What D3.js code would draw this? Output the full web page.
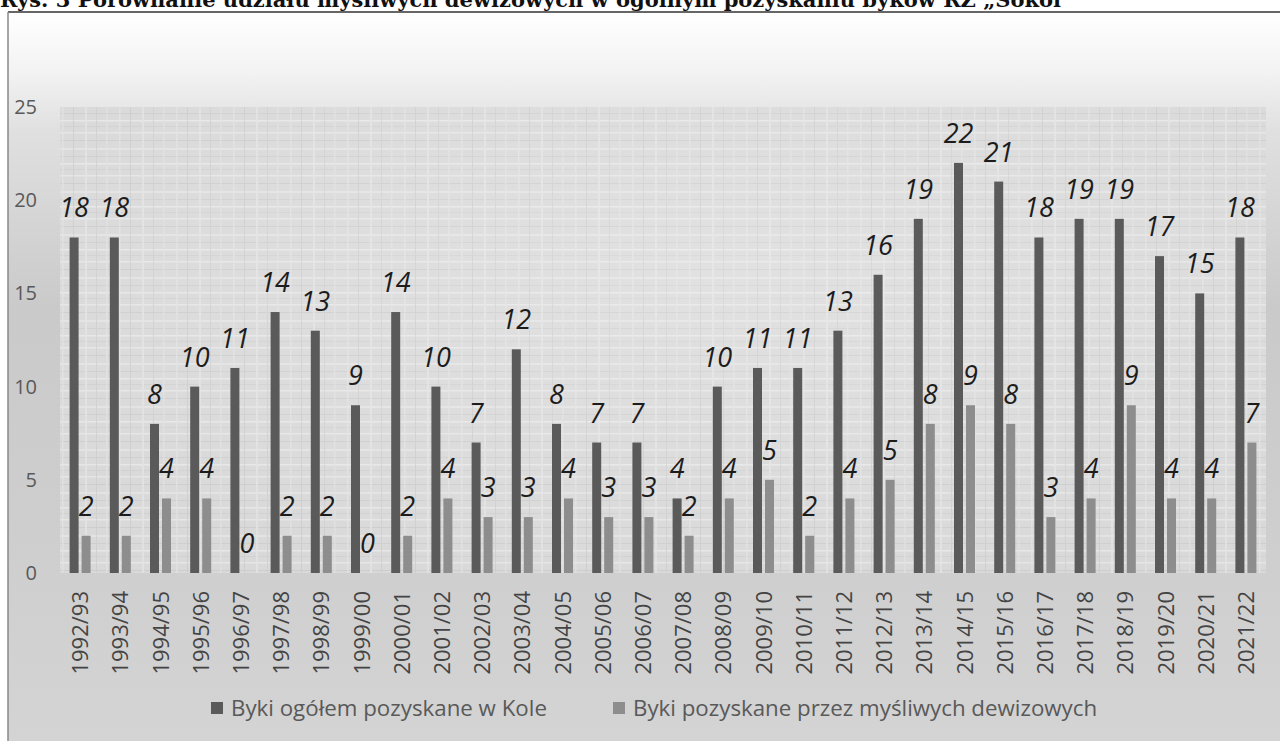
<!DOCTYPE html>
<html><head><meta charset="utf-8">
<script src="https://cdn.jsdelivr.net/npm/d3@7"></script>
<style>html,body{margin:0;padding:0;background:#fff;overflow:hidden}</style>
</head><body>
<svg id="c" width="1280" height="741"></svg>
<script>
const categories = ["1992/93","1993/94","1994/95","1995/96","1996/97","1997/98","1998/99","1999/00","2000/01","2001/02","2002/03","2003/04","2004/05","2005/06","2006/07","2007/08","2008/09","2009/10","2010/11","2011/12","2012/13","2013/14","2014/15","2015/16","2016/17","2017/18","2018/19","2019/20","2020/21","2021/22"];
const totalBulls = [18,18,8,10,11,14,13,9,14,10,7,12,8,7,7,4,10,11,11,13,16,19,22,21,18,19,19,17,15,18];
const foreignBulls = [2,2,4,4,0,2,2,0,2,4,3,3,4,3,3,2,4,5,2,4,5,8,9,8,3,4,9,4,4,7];
const yTicks = [0,5,10,15,20,25];
const seriesNames = ["Byki ogółem pozyskane w Kole","Byki pozyskane przez myśliwych dewizowych"];
const titleText = "Rys. 3 Porównanie udziału myśliwych dewizowych w ogólnym pozyskaniu byków RZ „Sokol\"";

const svg = d3.select("#c");
const defs = svg.append("defs");

// outer gradient
const g1 = defs.append("linearGradient").attr("id","bg").attr("x1",0).attr("y1",0).attr("x2",0).attr("y2",1);
[[0,"#ffffff"],[0.08,"#f3f3f3"],[0.16,"#e0e0e0"],[0.4,"#cacaca"],[0.7,"#cecece"],[1,"#d4d4d4"]]
  .forEach(([o,c])=>g1.append("stop").attr("offset",o).attr("stop-color",c));

// plot texture
const pat = defs.append("pattern").attr("id","tex").attr("patternUnits","userSpaceOnUse").attr("width",57).attr("height",43);
pat.append("rect").attr("width",57).attr("height",43).attr("fill","#d9d9d9");
[[3,"#e6e6e6",1.5],[11,"#cdcdcd",1],[19,"#e3e3e3",2],[27,"#cfcfcf",1],[34,"#e7e7e7",1.5],[40,"#d1d1d1",1]]
  .forEach(([y,c,w])=>pat.append("rect").attr("x",0).attr("y",y).attr("width",57).attr("height",w).attr("fill",c));
[[5,"#e2e2e2",1.5],[16,"#cccccc",1],[28,"#e4e4e4",2],[39,"#cecece",1],[49,"#e1e1e1",1.5]]
  .forEach(([x,c,w])=>pat.append("rect").attr("x",x).attr("y",0).attr("width",w).attr("height",43).attr("fill",c).attr("opacity",0.8));
const rg = defs.append("radialGradient").attr("id","glow").attr("cx",0.55).attr("cy",0.35).attr("r",0.7);
rg.append("stop").attr("offset",0).attr("stop-color","#ffffff").attr("stop-opacity",0.22);
rg.append("stop").attr("offset",1).attr("stop-color","#ffffff").attr("stop-opacity",0);

// title (cropped at top, as in the reference)
svg.append("text").attr("x",0).attr("y",7)
  .attr("font-family","DejaVu Serif").attr("font-weight","bold").attr("font-size",21)
  .attr("fill","#111").attr("textLength",1072).attr("lengthAdjust","spacingAndGlyphs")
  .text(titleText);

// chart area
svg.append("rect").attr("x",8).attr("y",12).attr("width",1280).attr("height",740).attr("fill","url(#bg)");
svg.append("line").attr("x1",8).attr("x2",1280).attr("y1",12).attr("y2",12).attr("stroke","#666").attr("stroke-width",2);
svg.append("line").attr("x1",8).attr("x2",8).attr("y1",12).attr("y2",741).attr("stroke","#888").attr("stroke-width",1.5);

const plot = {left:60, right:1266, top:107, bottom:573};
const x = d3.scaleBand().domain(categories).range([plot.left, plot.right]);
const y = d3.scaleLinear().domain([0,25]).range([plot.bottom, plot.top]);

svg.append("rect").attr("x",plot.left).attr("y",plot.top).attr("width",plot.right-plot.left).attr("height",plot.bottom-plot.top).attr("fill","url(#tex)");
svg.append("rect").attr("x",plot.left).attr("y",plot.top).attr("width",plot.right-plot.left).attr("height",plot.bottom-plot.top).attr("fill","url(#glow)");

// y axis
const yAxis = svg.append("g").attr("transform",`translate(37,0)`)
  .call(d3.axisLeft(y).tickValues(yTicks).tickSize(0).tickPadding(0));
yAxis.select(".domain").remove();
yAxis.selectAll("text").attr("font-family","Open Sans").attr("font-size",20).attr("fill","#595959");

// x axis
const xAxis = svg.append("g").attr("transform",`translate(0,${plot.bottom})`)
  .call(d3.axisBottom(x).tickSize(0));
xAxis.select(".domain").remove();
xAxis.selectAll("text")
  .attr("font-family","Open Sans").attr("font-size",22).attr("fill","#444")
  .attr("text-anchor","end").attr("dy",null)
  .attr("transform","translate(8,18) rotate(-90)")
  .attr("x",0).attr("y",0);

const barW = 9, gap = 3;
const series = [
  {vals: totalBulls, color:"#5a5a5a", off: -barW - gap/2},
  {vals: foreignBulls, color:"#8d8d8d", off: gap/2}
];
series.forEach(s=>{
  const g = svg.append("g");
  g.selectAll("rect").data(categories).join("rect")
    .attr("x",(d)=>x(d)+x.bandwidth()/2+s.off)
    .attr("width",barW)
    .attr("y",(d,i)=>y(s.vals[i]))
    .attr("height",(d,i)=>y(0)-y(s.vals[i]))
    .attr("fill",s.color);
  g.selectAll("text").data(categories).join("text")
    .attr("x",(d)=>x(d)+x.bandwidth()/2+s.off+barW/2)
    .attr("y",(d,i)=>y(s.vals[i])-20)
    .attr("text-anchor","middle")
    .attr("font-family","Open Sans").attr("font-style","italic").attr("font-size",27)
    .attr("fill","#1c1c1c")
    .text((d,i)=>s.vals[i]);
});

// legend
const leg = [{x:211, c:"#5a5a5a", t:seriesNames[0]},{x:613, c:"#8d8d8d", t:seriesNames[1]}];
leg.forEach(l=>{
  svg.append("rect").attr("x",l.x).attr("y",702).attr("width",12).attr("height",12).attr("fill",l.c);
  svg.append("text").attr("x",l.x+20).attr("y",716).attr("font-family","Open Sans").attr("font-size",22.3).attr("fill","#595959").text(l.t);
});
</script>
</body></html>
